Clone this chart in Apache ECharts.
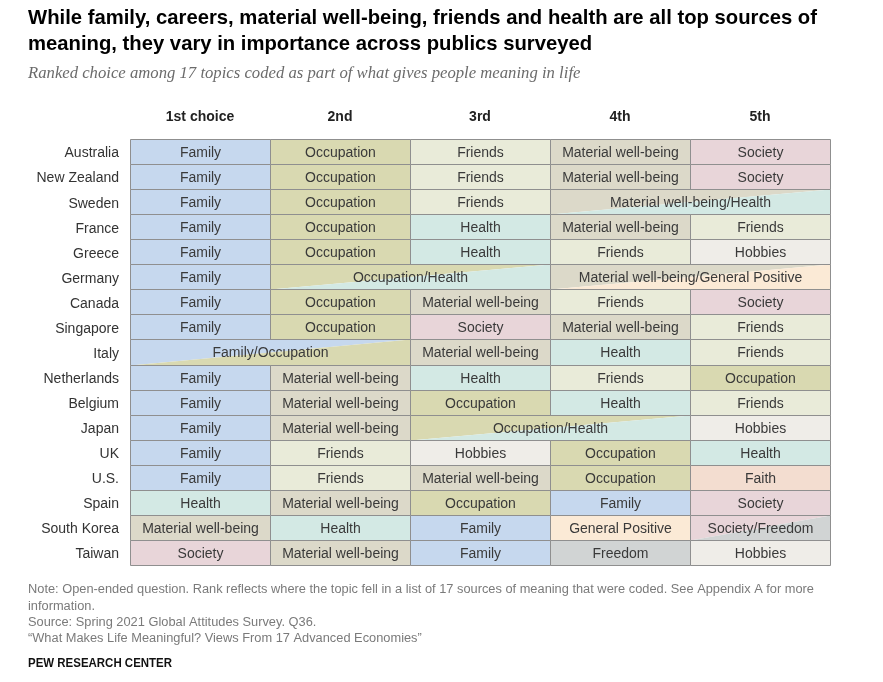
<!DOCTYPE html>
<html>
<head>
<meta charset="utf-8">
<script src="https://cdn.jsdelivr.net/npm/echarts@6/dist/echarts.min.js"></script>
<style>
html,body{margin:0;padding:0;background:#fff;}
#chart{width:883px;height:682px;}
</style>
</head>
<body>
<div id="chart"></div>
<script>
// ---- Data ----
const countries = ['Australia','New Zealand','Sweden','France','Greece','Germany','Canada','Singapore','Italy','Netherlands','Belgium','Japan','UK','U.S.','Spain','South Korea','Taiwan'];
const rankHeaders = ['1st choice','2nd','3rd','4th','5th'];
const choice1 = ['Family','Family','Family','Family','Family','Family','Family','Family','Family/Occupation','Family','Family','Family','Family','Family','Health','Material well-being','Society'];
const choice2 = ['Occupation','Occupation','Occupation','Occupation','Occupation','Occupation/Health','Occupation','Occupation','Family/Occupation','Material well-being','Material well-being','Material well-being','Friends','Friends','Material well-being','Health','Material well-being'];
const choice3 = ['Friends','Friends','Friends','Health','Health','Occupation/Health','Material well-being','Society','Material well-being','Health','Occupation','Occupation/Health','Hobbies','Material well-being','Occupation','Family','Family'];
const choice4 = ['Material well-being','Material well-being','Material well-being/Health','Material well-being','Friends','Material well-being/General Positive','Friends','Material well-being','Health','Friends','Health','Occupation/Health','Occupation','Occupation','Family','General Positive','Freedom'];
const choice5 = ['Society','Society','Material well-being/Health','Friends','Hobbies','Material well-being/General Positive','Society','Friends','Friends','Occupation','Friends','Hobbies','Health','Faith','Society','Society/Freedom','Hobbies'];

const titleLines = ['While family, careers, material well-being, friends and health are all top sources of','meaning, they vary in importance across publics surveyed'];
const subtitleText = 'Ranked choice among 17 topics coded as part of what gives people meaning in life';
const noteLines = ['Note: Open-ended question. Rank reflects where the topic fell in a list of 17 sources of meaning that were coded. See Appendix A for more','information.','Source: Spring 2021 Global Attitudes Survey. Q36.','\u201cWhat Makes Life Meaningful? Views From 17 Advanced Economies\u201d'];
const sourceText = 'PEW RESEARCH CENTER';

// ---- Styles ----
const topicColors = {
  'Family':'#c6d8ee',
  'Occupation':'#d9d9b1',
  'Friends':'#e9ebd9',
  'Health':'#d3e9e4',
  'Material well-being':'#dcd9c9',
  'Society':'#e8d5d9',
  'Hobbies':'#efede8',
  'Faith':'#f3ddd0',
  'General Positive':'#fbead6',
  'Freedom':'#d1d4d4'
};
const FONT = "'Liberation Sans', Arial, sans-serif";
const TITLE_FONT = "bold 21px 'Liberation Sans', Arial, sans-serif";
const NOTE_FONT = "12.5px 'Liberation Sans', Arial, sans-serif";
const SRC_FONT = "bold 12.5px 'Liberation Sans', Arial, sans-serif";

// measure text to condense it horizontally (reference uses a condensed face)
const mctx = document.createElement('canvas').getContext('2d');
function textW(str, font) { mctx.font = font; return mctx.measureText(str).width; }
const titleScale = 789 / textW(titleLines[0], TITLE_FONT);
const noteScale = 786 / textW(noteLines[0], NOTE_FONT);
const srcScale = 144 / textW(sourceText, SRC_FONT);

// ---- Build merged cells ----
const cols = [choice1, choice2, choice3, choice4, choice5];
const cells = [];
countries.forEach((c, r) => {
  let c0 = 0;
  while (c0 < 5) {
    let c1 = c0 + 1;
    while (c1 < 5 && cols[c1][r] === cols[c0][r]) c1++;
    cells.push({ row: r, start: c0, end: c1, label: cols[c0][r] });
    c0 = c1;
  }
});
const cellData = cells.map((d, i) => [d.start, d.row, d.end, i]);

function renderCell(params, api) {
  const cell = cells[params.dataIndex];
  const pA = api.coord([cell.start, cell.row]);
  const pB = api.coord([cell.end, cell.row]);
  const h = api.size([0, 1])[1];
  const x0 = Math.round(pA[0]) + 0.5, x1 = Math.round(pB[0]) + 0.5;
  const yT = Math.round(pA[1] - h / 2) + 0.5, yB = Math.round(pA[1] + h / 2) + 0.5;
  const parts = cell.label.split('/');
  const children = [];
  if (parts.length === 2) {
    children.push({ type: 'polygon', shape: { points: [[x0, yT], [x1, yT], [x0, yB]] }, style: { fill: topicColors[parts[0]] } });
    children.push({ type: 'polygon', shape: { points: [[x1, yT], [x1, yB], [x0, yB]] }, style: { fill: topicColors[parts[1]] } });
  } else {
    children.push({ type: 'rect', shape: { x: x0, y: yT, width: x1 - x0, height: yB - yT }, style: { fill: topicColors[parts[0]] } });
  }
  children.push({ type: 'rect', shape: { x: x0, y: yT, width: x1 - x0, height: yB - yT }, style: { fill: null, stroke: '#8f8f8f', lineWidth: 1 } });
  children.push({ type: 'text', x: (x0 + x1) / 2, y: (yT + yB) / 2 + 1, style: { text: cell.label, fill: '#3a3a3a', font: '14px ' + FONT, align: 'center', verticalAlign: 'middle' } });
  return { type: 'group', children };
}

const graphics = [];
titleLines.forEach((t, i) => {
  graphics.push({ type: 'text', x: 28, y: 18 + i * 26, scaleX: titleScale, silent: true,
    style: { text: t, font: TITLE_FONT, fill: '#000', verticalAlign: 'middle', align: 'left' } });
});
noteLines.forEach((t, i) => {
  graphics.push({ type: 'text', x: 28, y: 590 + i * 16.3, scaleX: noteScale, silent: true,
    style: { text: t, font: NOTE_FONT, fill: '#7a7a7a', verticalAlign: 'middle', align: 'left' } });
});
graphics.push({ type: 'text', x: 28, y: 664, scaleX: srcScale, silent: true,
  style: { text: sourceText, font: SRC_FONT, fill: '#111', verticalAlign: 'middle', align: 'left' } });

const chart = echarts.init(document.getElementById('chart'), null, { renderer: 'canvas' });
chart.setOption({
  animation: false,
  backgroundColor: '#fff',
  title: [
    { text: subtitleText, left: 28, top: 64, padding: 0, textStyle: { fontFamily: "'Liberation Serif', serif", fontStyle: 'italic', fontSize: 16.7, fontWeight: 'normal', lineHeight: 20, color: '#6b6b6b' } }
  ],
  graphic: graphics,
  grid: { left: 130, top: 139, right: 53, bottom: 117, containLabel: false },
  xAxis: [
    { type: 'value', min: 0, max: 5, show: false },
    { type: 'category', data: rankHeaders, position: 'top', axisLine: { show: false }, axisTick: { show: false }, splitLine: { show: false },
      axisLabel: { margin: 15, fontFamily: FONT, fontSize: 14, fontWeight: 'bold', color: '#222' } }
  ],
  yAxis: { type: 'category', data: countries, inverse: true, axisLine: { show: false }, axisTick: { show: false }, splitLine: { show: false },
    axisLabel: { margin: 11, formatter: '{c|{value}}',
      rich: { c: { padding: [4, 0, 0, 0], fontFamily: FONT, fontSize: 14, color: '#333' } } } },
  series: [{
    type: 'custom', xAxisIndex: 0, yAxisIndex: 0, data: cellData, renderItem: renderCell, encode: { x: [0, 2], y: 1 }, silent: true
  }]
});
</script>
</body>
</html>
